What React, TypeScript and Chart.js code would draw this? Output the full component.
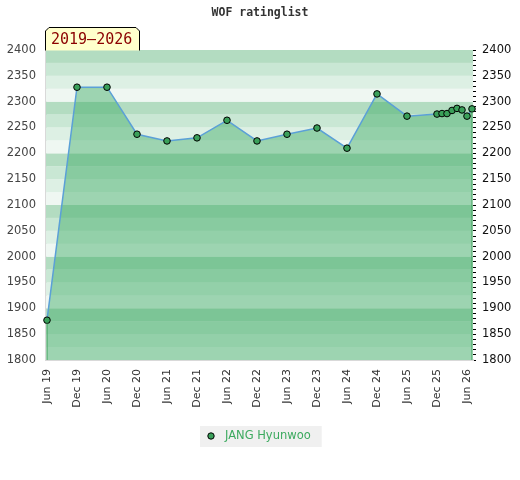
import React, { useEffect, useRef } from "react";
import { Chart, registerables } from "chart.js";

Chart.register(...registerables);

const TITLE = "WOF ratinglist";
const PERIOD = "2019–2026";
const PLAYER = "JANG Hyunwoo";

const dates = [
  "2019-06", "2019-12", "2020-06", "2020-12", "2021-06", "2021-12", "2022-06",
  "2022-12", "2023-06", "2023-12", "2024-06", "2024-12", "2025-06", "2025-12",
  "2026-01", "2026-02", "2026-03", "2026-04", "2026-05", "2026-06", "2026-07",
];
const ratings = [
  1877, 2328, 2328, 2237, 2224, 2230, 2264, 2224, 2237, 2249, 2210, 2315, 2272,
  2276, 2277, 2277, 2283, 2287, 2284, 2272, 2286,
];

const xTickDates = [
  "2019-06", "2019-12", "2020-06", "2020-12", "2021-06", "2021-12", "2022-06",
  "2022-12", "2023-06", "2023-12", "2024-06", "2024-12", "2025-06", "2025-12", "2026-06",
];
const xTickLabels = [
  "Jun 19", "Dec 19", "Jun 20", "Dec 20", "Jun 21", "Dec 21", "Jun 22",
  "Dec 22", "Jun 23", "Dec 23", "Jun 24", "Dec 24", "Jun 25", "Dec 25", "Jun 26",
];

const Y_MIN = 1800;
const Y_MAX = 2400;

const toMonth = (s: string) => {
  const [y, m] = s.split("-").map(Number);
  return (y - 2019) * 12 + (m - 6);
};

const bandColors = [
  "rgb(239,247,242)",
  "rgb(221,240,228)",
  "rgb(201,231,212)",
  "rgb(179,220,193)",
];

const decorPlugin = {
  id: "decor",
  beforeDatasetsDraw(chart: any) {
    const { ctx, chartArea, scales } = chart;
    const y = scales.y;
    ctx.save();
    for (let v = Y_MIN; v < Y_MAX; v += 25) {
      const q = ((v - Y_MIN) / 25) % 4;
      const top = y.getPixelForValue(v + 25);
      const bot = y.getPixelForValue(v);
      ctx.fillStyle = bandColors[q];
      ctx.fillRect(chartArea.left, top, chartArea.right - chartArea.left, bot - top);
    }
    ctx.restore();
  },
  afterDatasetsDraw(chart: any) {
    const { ctx, chartArea } = chart;
    const meta = chart.getDatasetMeta(0);
    const first = meta.data[0];
    const last = meta.data[meta.data.length - 1];
    ctx.save();
    ctx.strokeStyle = "rgb(60,160,90)";
    ctx.lineWidth = 1;
    ctx.beginPath();
    ctx.moveTo(first.x, first.y + 3);
    ctx.lineTo(first.x, chartArea.bottom);
    ctx.moveTo(last.x, last.y + 3);
    ctx.lineTo(last.x, chartArea.bottom);
    ctx.stroke();
    ctx.restore();
  },
  afterDraw(chart: any) {
    const { ctx, chartArea, width } = chart;
    ctx.save();
    // title
    ctx.font = "bold 11.5px 'DejaVu Sans Mono'";
    ctx.fillStyle = "#333";
    ctx.textAlign = "center";
    ctx.textBaseline = "middle";
    ctx.fillText(TITLE, width / 2, 13);

    // period box
    const bx = chartArea.left - 1;
    const by = 27;
    const bw = 95;
    const bh = chartArea.top - by + 0.5;
    const c = 4;
    ctx.beginPath();
    ctx.moveTo(bx + 0.5, by + bh);
    ctx.lineTo(bx + 0.5, by + c);
    ctx.lineTo(bx + c, by + 0.5);
    ctx.lineTo(bx + bw - c, by + 0.5);
    ctx.lineTo(bx + bw - 0.5, by + c);
    ctx.lineTo(bx + bw - 0.5, by + bh);
    ctx.fillStyle = "#ffffcc";
    ctx.fill();
    ctx.strokeStyle = "#000";
    ctx.lineWidth = 1;
    ctx.stroke();
    ctx.font = "15px 'DejaVu Sans Mono'";
    ctx.fillStyle = "#8b0000";
    ctx.textAlign = "left";
    ctx.textBaseline = "middle";
    ctx.fillText(PERIOD, bx + 6, by + 13);

    // legend
    ctx.font = "11.5px 'DejaVu Sans'";
    const tw = ctx.measureText(PLAYER).width;
    const lw = tw + 36;
    const lx = Math.round(width / 2 - lw / 2) + 1;
    const ly = 426;
    ctx.fillStyle = "#f0f0f0";
    ctx.fillRect(lx, ly, lw, 21);
    ctx.beginPath();
    ctx.arc(lx + 11, ly + 10, 3.2, 0, Math.PI * 2);
    ctx.fillStyle = "rgb(58,160,90)";
    ctx.fill();
    ctx.strokeStyle = "#000";
    ctx.lineWidth = 1;
    ctx.stroke();
    ctx.fillStyle = "rgb(60,170,95)";
    ctx.textBaseline = "middle";
    ctx.fillText(PLAYER, lx + 25, ly + 10.5);
    ctx.restore();
  },
};

export default function App() {
  const ref = useRef<HTMLCanvasElement | null>(null);
  useEffect(() => {
    if (!ref.current) return;
    const pts = dates.map((d, i) => ({ x: toMonth(d), y: ratings[i] }));
    const tickVals = xTickDates.map(toMonth);
    const chart = new Chart(ref.current, {
      type: "line",
      data: {
        datasets: [
          {
            label: PLAYER,
            data: pts,
            borderColor: "rgb(91,160,215)",
            borderWidth: 1.5,
            backgroundColor: "rgba(58,168,98,0.45)",
            fill: "start",
            pointRadius: 3.3,
            pointBackgroundColor: "rgb(58,160,90)",
            pointBorderColor: "#000",
            pointBorderWidth: 1,
            tension: 0,
            clip: false as any,
          },
        ],
      },
      options: {
        animation: false,
        responsive: true,
        maintainAspectRatio: false,
        layout: { padding: { top: 50, left: 0, right: 0, bottom: 0 } },
        plugins: { legend: { display: false }, title: { display: false }, tooltip: { enabled: false } },
        scales: {
          x: {
            type: "linear",
            min: -0.2,
            max: 85.2,
            afterBuildTicks: (s: any) => {
              s.ticks = tickVals.map((v) => ({ value: v }));
            },
            afterFit: (s: any) => {
              s.height = 120;
            },
            grid: { display: false, drawTicks: false },
            border: { display: true, color: "#d9d9d9", width: 2 },
            ticks: {
              autoSkip: false,
              maxRotation: 90,
              minRotation: 90,
              padding: 9,
              color: "#333",
              font: { family: "'DejaVu Sans'", size: 11 },
              callback: (v: any) => {
                const i = tickVals.indexOf(Number(v));
                return i >= 0 ? xTickLabels[i] : "";
              },
            },
          },
          y: {
            position: "left",
            min: Y_MIN,
            max: Y_MAX,
            afterFit: (s: any) => {
              s.width = 46;
            },
            grid: { display: false, drawTicks: false },
            border: { display: true, color: "#d9d9d9", width: 2 },
            ticks: {
              stepSize: 50,
              padding: 10,
              color: "#444",
              font: { family: "'DejaVu Sans'", size: 11.5 },
              callback: (v: any) => String(v),
            },
          },
          y2: {
            position: "right",
            min: Y_MIN,
            max: Y_MAX,
            afterFit: (s: any) => {
              s.width = 47;
            },
            grid: { drawOnChartArea: false, drawTicks: true, tickLength: 3, color: "#000", tickColor: "#000" },
            border: { display: false },
            ticks: {
              stepSize: 10,
              autoSkip: false,
              padding: 6,
              color: "#111",
              font: { family: "'DejaVu Sans'", size: 11.5 },
              callback: (v: any) => (Number(v) % 50 === 0 ? String(v) : ""),
            },
          },
        },
      },
      plugins: [decorPlugin],
    });
    return () => chart.destroy();
  }, []);
  return (
    <div style={{ position: "fixed", left: 0, top: 0, width: 520, height: 480, background: "#fff" }}>
      <canvas ref={ref} />
    </div>
  );
}
